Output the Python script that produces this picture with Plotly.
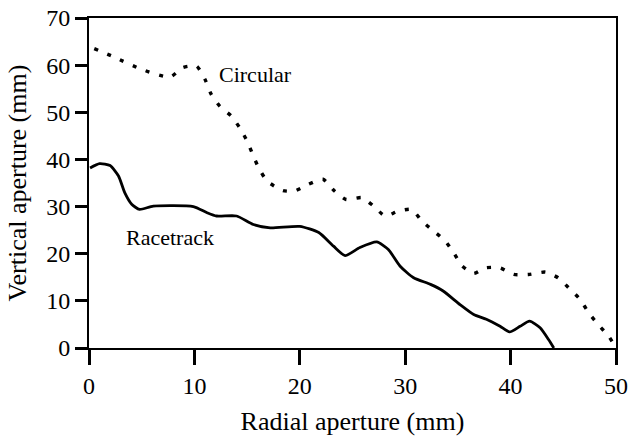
import plotly.graph_objects as go

circ_x = [0.5, 2.3, 5.0, 7.7, 8.9, 10.2, 11.0, 11.6, 12.4, 13.5, 14.3, 15.0, 15.6, 16.1, 16.9,
          18.4, 19.5, 20.8, 22.2, 23.3, 24.4, 25.9, 27.0, 28.1, 29.3, 30.6, 31.6, 32.7, 33.8,
          34.6, 35.4, 36.5, 37.6, 39.0, 40.3, 41.7, 43.3, 44.5, 45.5, 46.6, 47.4, 48.3, 49.3, 49.9]
circ_y = [63.5, 61.8, 59.1, 57.5, 59.5, 59.8, 57.0, 53.8, 51.3, 49.2, 46.7, 43.9, 40.7, 38.2, 35.4,
          33.4, 33.3, 34.7, 35.8, 33.3, 31.5, 31.9, 30.1, 28.0, 29.0, 29.4, 26.9, 24.8, 22.7,
          20.2, 17.4, 15.8, 17.0, 17.0, 15.6, 15.6, 16.1, 14.9, 12.8, 10.3, 7.5, 5.0, 2.5, 0.4]

race_x = [0.1, 1.0, 2.0, 2.8, 3.4, 4.05, 4.8, 6.1, 9.9, 11.2, 12.1, 14.0, 15.6, 17.2, 20.0,
          21.8, 23.2, 24.3, 25.7, 27.3, 28.4, 29.5, 30.8, 32.4, 33.6, 35.2, 36.5, 37.7, 39.0,
          39.9, 40.9, 41.8, 42.8, 43.6, 44.1]
race_y = [38.2, 39.1, 38.7, 36.5, 32.9, 30.5, 29.4, 30.1, 30.0, 28.7, 28.0, 28.0, 26.2, 25.5, 25.8,
          24.5, 21.6, 19.6, 21.3, 22.5, 20.9, 17.4, 14.9, 13.5, 12.1, 9.2, 7.1, 6.1, 4.6,
          3.4, 4.6, 5.7, 4.3, 1.8, 0.0]

x_ticks = [0, 10, 20, 30, 40, 50]
y_ticks = [0, 10, 20, 30, 40, 50, 60, 70]

FONT = "Liberation Serif"

fig = go.Figure()
fig.add_trace(go.Scatter(x=circ_x, y=circ_y, mode="lines",
                         line=dict(color="black", width=3.4, dash="4px,10px", shape="spline", smoothing=0.6),
                         showlegend=False))
fig.add_trace(go.Scatter(x=race_x, y=race_y, mode="lines",
                         line=dict(color="black", width=2.8, shape="spline", smoothing=0.6),
                         showlegend=False))

fig.add_annotation(x=15.8, y=58.1, text="Circular", showarrow=False,
                   font=dict(family=FONT, size=22, color="black"))
fig.add_annotation(x=7.7, y=23.4, text="Racetrack", showarrow=False,
                   font=dict(family=FONT, size=22, color="black"))

axis_common = dict(showgrid=False, zeroline=False, showline=True, linecolor="black", linewidth=2,
                   mirror=True, ticks="outside", tickcolor="black", tickwidth=2.5, automargin=False,
                   tickfont=dict(family=FONT, size=24, color="black"),
                   title_font=dict(family=FONT, size=26, color="black"))

fig.update_xaxes(range=[0, 50], tickvals=x_ticks, ticklen=15,
                 title_text="Radial aperture (mm)", **axis_common)
fig.update_yaxes(range=[0, 70], tickvals=y_ticks, ticklen=12,
                 title_text="Vertical aperture (mm)", **axis_common)

fig.update_layout(width=630, height=436, margin=dict(l=89, r=14, t=18, b=88),
                  font=dict(family=FONT, color="black"), template="none",
                  plot_bgcolor="white", paper_bgcolor="white")

fig.write_html("out.html", config={"displayModeBar": False},
               post_script="document.body.style.margin='0';document.body.style.overflow='hidden';")
